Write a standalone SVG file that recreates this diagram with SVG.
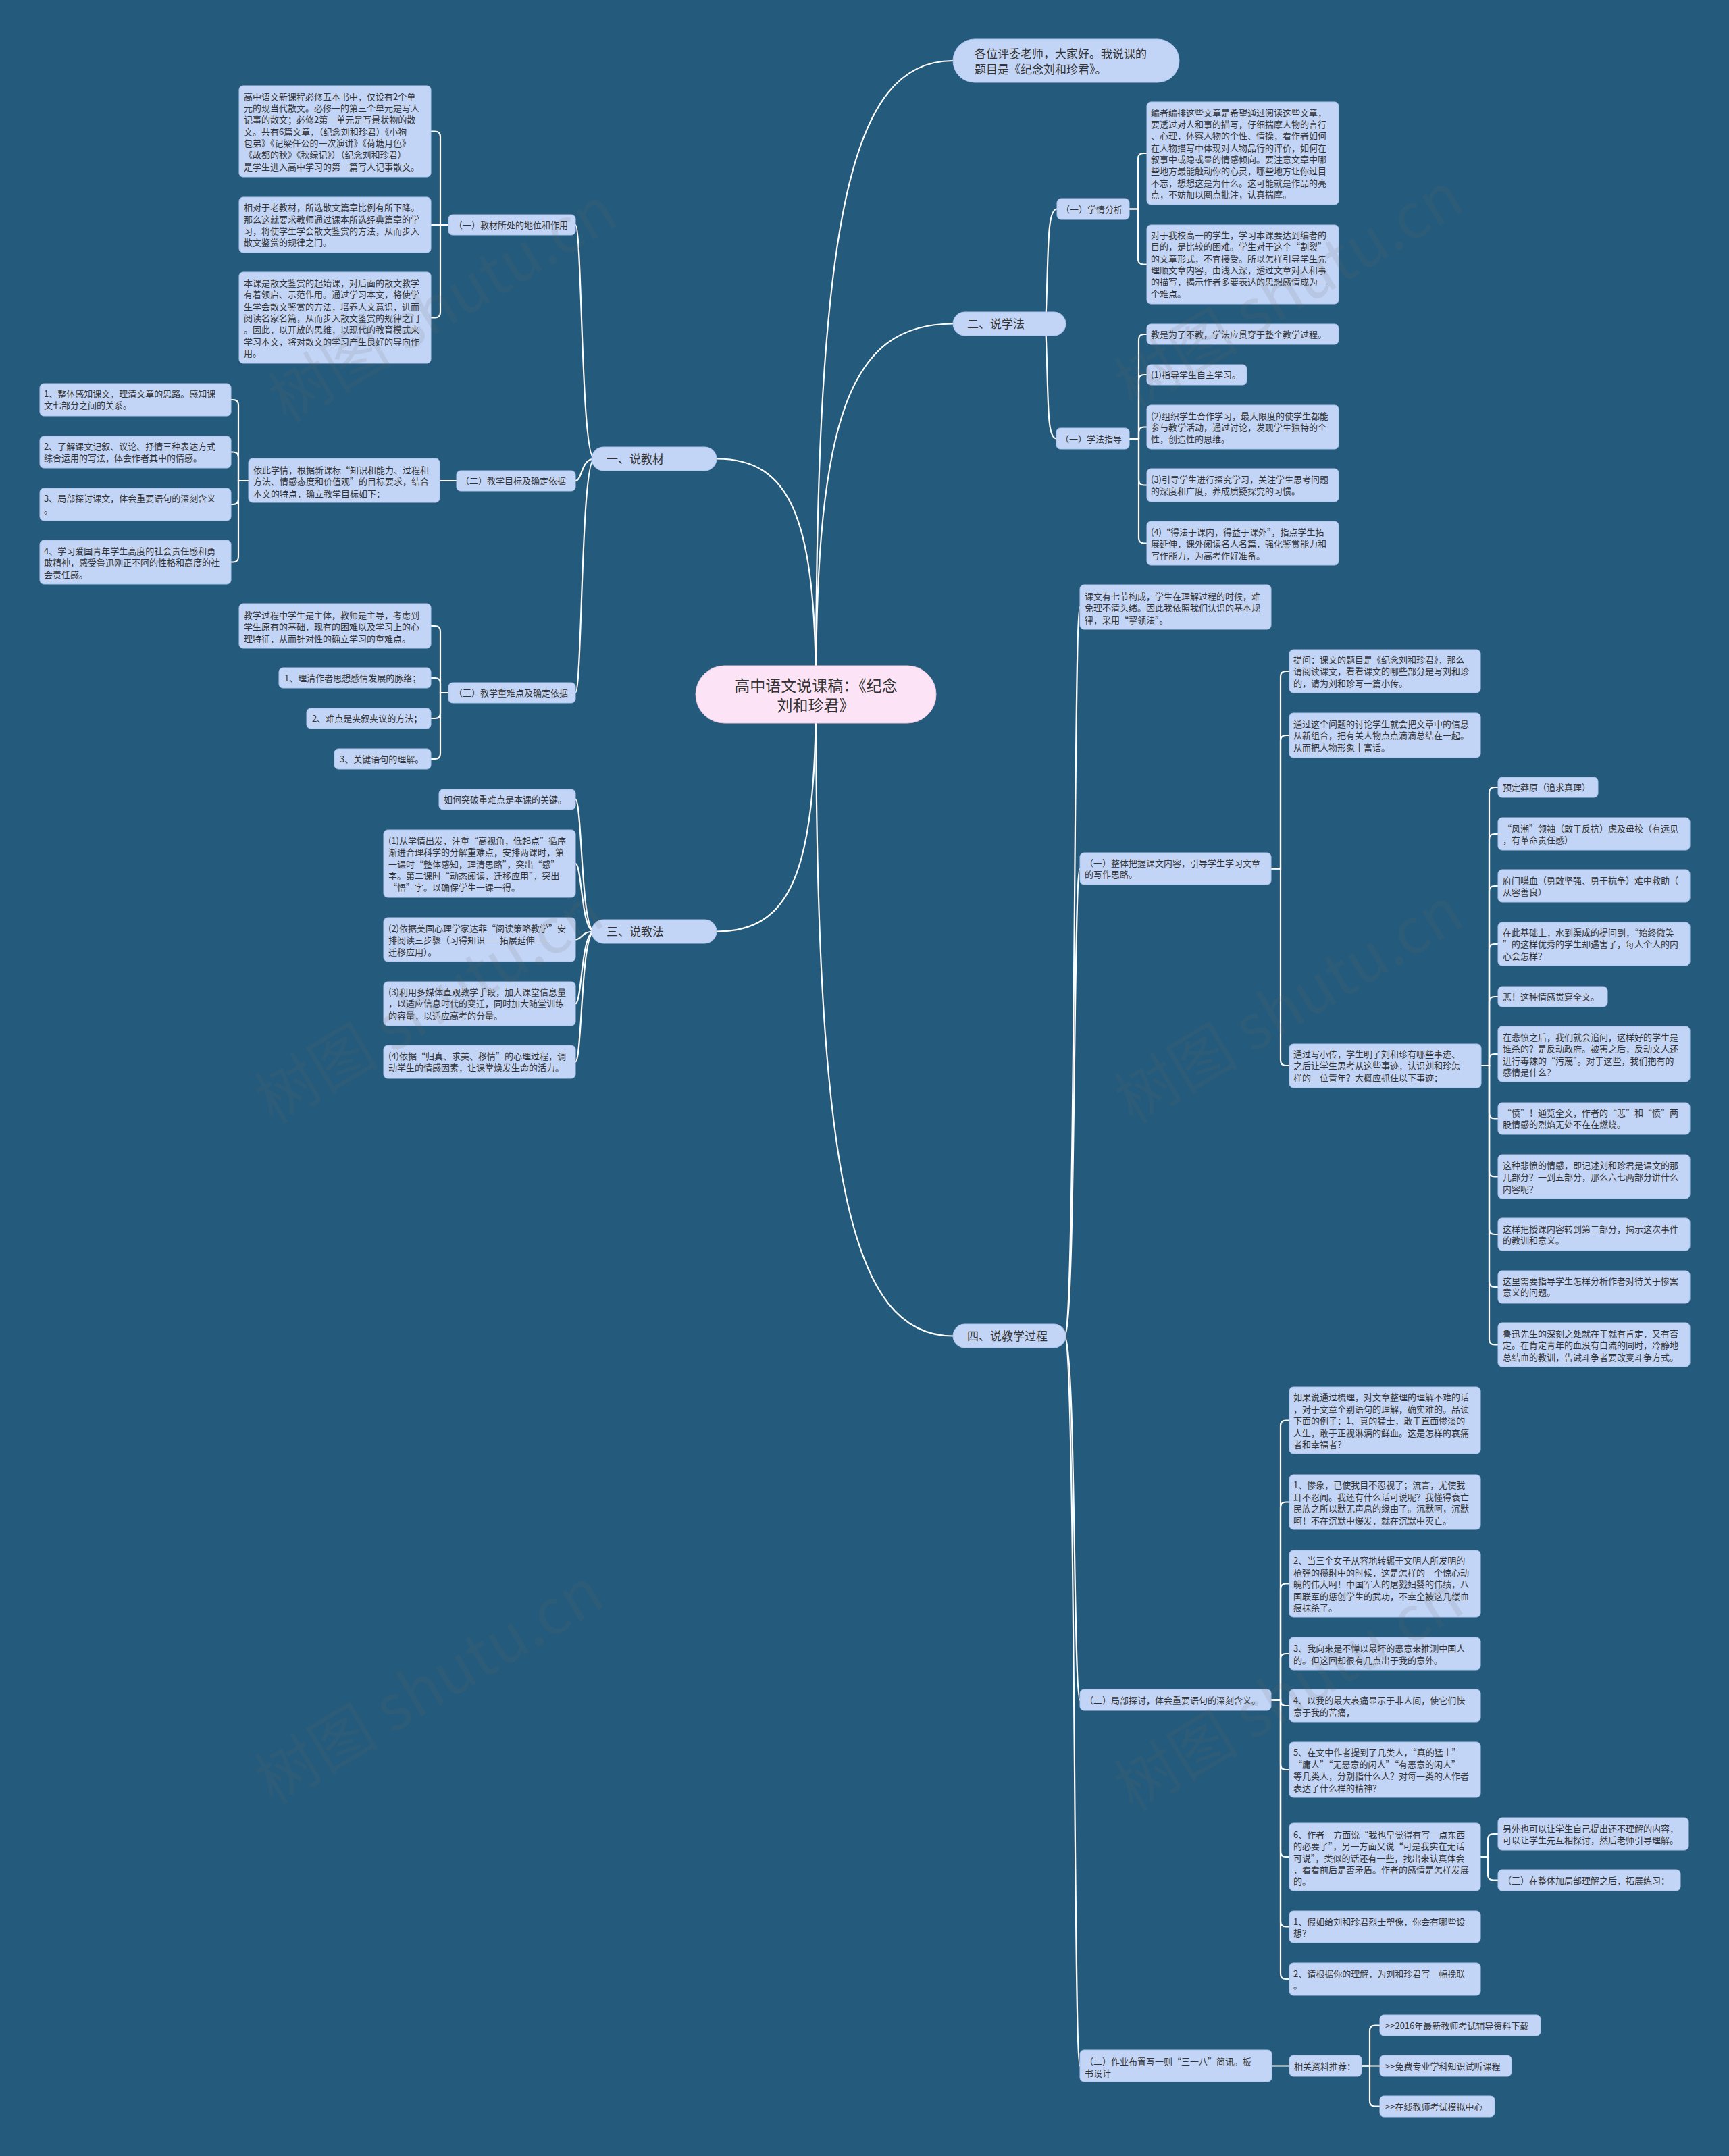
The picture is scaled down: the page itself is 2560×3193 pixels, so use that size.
<svg xmlns="http://www.w3.org/2000/svg" width="2560" height="3193" viewBox="0 0 2560 3193">
<style>
.bg{fill:#245a7b}
.nd{fill:#c3d5f6;stroke:#aec4ec;stroke-width:1}
.mn{fill:#c3d5f6;stroke:#aec4ec;stroke-width:1}
.ct{fill:#fce4f6;stroke:#e9c9e0;stroke-width:1}
text{font-family:"Noto Sans CJK SC","Noto Sans",sans-serif;fill:#333}
.t13{font-size:13px}
.t17{font-size:17px}
.t23{font-size:23px}
.lk{fill:none;stroke:#ffffff;stroke-width:2.2;stroke-linecap:round}
.wm{font-family:"Noto Sans CJK SC","Liberation Serif",serif;font-size:92px;fill:#6b6b6b;opacity:0.13}
</style>
<rect class="bg" x="0" y="0" width="2560" height="3193"/>

<g id="connectors">
<!-- center to main -->
<path class="lk" d="M1208 1028 C1208 320 1259 90 1411 90"/>
<path class="lk" d="M1208 1028 C1208 615 1259 479.5 1411 479.5"/>
<path class="lk" d="M1208 1028 C1208 1741 1259 1978.5 1411 1978.5"/>
<path class="lk" d="M1208 1028 C1208 767 1171 679.5 1061 679.5"/>
<path class="lk" d="M1208 1028 C1208 1292 1171 1379.5 1061 1379.5"/>
<!-- 说教材 to subs -->
<path class="lk" d="M880 679.5 C860 679.5 862 333 852 333"/>
<path class="lk" d="M880 679.5 C860 679.5 862 712 852 712"/>
<path class="lk" d="M880 679.5 C860 679.5 862 1026 852 1026"/>
<!-- A bracket -->
<path class="lk" d="M664 333 H652 V202.5 Q652 194.5 644 194.5 H638"/>
<path class="lk" d="M664 333 H638"/>
<path class="lk" d="M664 333 H652 V462.5 Q652 470.5 644 470.5 H638"/>
<!-- B -->
<path class="lk" d="M676 712 H651"/>
<path class="lk" d="M368 712 H353 V600 Q353 592 345 592 H342"/>
<path class="lk" d="M368 712 H353 V677.5 Q353 669.5 345 669.5 H342"/>
<path class="lk" d="M368 712 H353 V739 Q353 747 345 747 H342"/>
<path class="lk" d="M368 712 H353 V824.5 Q353 832.5 345 832.5 H342"/>
<!-- C -->
<path class="lk" d="M664 1026 H652 V935 Q652 927 644 927 H638"/>
<path class="lk" d="M664 1026 H652 V1012 Q652 1004 644 1004 H638"/>
<path class="lk" d="M664 1026 H652 V1056 Q652 1064 644 1064 H638"/>
<path class="lk" d="M664 1026 H652 V1116 Q652 1124 644 1124 H638"/>
<!-- 说教法 to D -->
<path class="lk" d="M880 1379.5 C860 1379.5 862 1184 852 1184"/>
<path class="lk" d="M880 1379.5 C860 1379.5 862 1279 852 1279"/>
<path class="lk" d="M880 1379.5 C860 1379.5 862 1391.5 852 1391.5"/>
<path class="lk" d="M880 1379.5 C860 1379.5 862 1486.5 852 1486.5"/>
<path class="lk" d="M880 1379.5 C860 1379.5 862 1572.5 852 1572.5"/>
<!-- 说学法 to subs -->
<path class="lk" d="M1548 480 C1553 380 1549 309.5 1565 309.5"/>
<path class="lk" d="M1548 480 C1553 590 1549 649.5 1564 649.5"/>
<!-- E -->
<path class="lk" d="M1672 309.5 H1685 V235 Q1685 227 1693 227 H1698"/>
<path class="lk" d="M1672 309.5 H1685 V383.5 Q1685 391.5 1693 391.5 H1698"/>
<!-- F -->
<path class="lk" d="M1672 649.5 H1686 V503 Q1686 495 1694 495 H1698"/>
<path class="lk" d="M1672 649.5 H1686 V563 Q1686 555 1694 555 H1698"/>
<path class="lk" d="M1672 649.5 H1686 V640.5 Q1686 632.5 1694 632.5 H1698"/>
<path class="lk" d="M1672 649.5 H1686 V710.5 Q1686 718.5 1694 718.5 H1698"/>
<path class="lk" d="M1672 649.5 H1686 V796.5 Q1686 804.5 1694 804.5 H1698"/>
<!-- 说教学过程 to subs -->
<path class="lk" d="M1576 1978.5 C1593 1978.5 1589 899 1599 899"/>
<path class="lk" d="M1576 1978.5 C1593 1978.5 1589 1286.5 1599 1286.5"/>
<path class="lk" d="M1576 1978.5 C1593 1978.5 1589 2517.5 1599 2517.5"/>
<path class="lk" d="M1576 1978.5 C1593 1978.5 1589 3059.5 1599 3059.5"/>
<!-- G2 bracket -->
<path class="lk" d="M1882 1286.5 H1896 V1002 Q1896 994 1904 994 H1909"/>
<path class="lk" d="M1882 1286.5 H1896 V1097 Q1896 1089 1904 1089 H1909"/>
<path class="lk" d="M1882 1286.5 H1896 V1570 Q1896 1578 1904 1578 H1909"/>
<!-- H bracket -->
<path class="lk" d="M2193 1578 H2205 V1174 Q2205 1166 2213 1166 H2218"/>
<path class="lk" d="M2193 1578 H2205 V1243 Q2205 1235 2213 1235 H2218"/>
<path class="lk" d="M2193 1578 H2205 V1320 Q2205 1312 2213 1312 H2218"/>
<path class="lk" d="M2193 1578 H2205 V1406 Q2205 1398 2213 1398 H2218"/>
<path class="lk" d="M2193 1578 H2205 V1484 Q2205 1476 2213 1476 H2218"/>
<path class="lk" d="M2193 1578 H2205 V1569 Q2205 1561 2213 1561 H2218"/>
<path class="lk" d="M2193 1578 H2205 V1648.5 Q2205 1656.5 2213 1656.5 H2218"/>
<path class="lk" d="M2193 1578 H2205 V1734.5 Q2205 1742.5 2213 1742.5 H2218"/>
<path class="lk" d="M2193 1578 H2205 V1820 Q2205 1828 2213 1828 H2218"/>
<path class="lk" d="M2193 1578 H2205 V1898 Q2205 1906 2213 1906 H2218"/>
<path class="lk" d="M2193 1578 H2205 V1983.5 Q2205 1991.5 2213 1991.5 H2218"/>
<!-- I bracket -->
<path class="lk" d="M1882 2517.5 H1896 V2111.5 Q1896 2103.5 1904 2103.5 H1909"/>
<path class="lk" d="M1882 2517.5 H1896 V2232.5 Q1896 2224.5 1904 2224.5 H1909"/>
<path class="lk" d="M1882 2517.5 H1896 V2353.5 Q1896 2345.5 1904 2345.5 H1909"/>
<path class="lk" d="M1882 2517.5 H1896 V2457 Q1896 2449 1904 2449 H1909"/>
<path class="lk" d="M1882 2517.5 H1896 V2518 Q1896 2526 1904 2526 H1909"/>
<path class="lk" d="M1882 2517.5 H1896 V2613 Q1896 2621 1904 2621 H1909"/>
<path class="lk" d="M1882 2517.5 H1896 V2742 Q1896 2750 1904 2750 H1909"/>
<path class="lk" d="M1882 2517.5 H1896 V2845.5 Q1896 2853.5 1904 2853.5 H1909"/>
<path class="lk" d="M1882 2517.5 H1896 V2923 Q1896 2931 1904 2931 H1909"/>
<!-- J bracket -->
<path class="lk" d="M2192 2750 H2203 V2724 Q2203 2716 2211 2716 H2218"/>
<path class="lk" d="M2192 2750 H2203 V2776.5 Q2203 2784.5 2211 2784.5 H2218"/>
<!-- K -->
<path class="lk" d="M1883 3059.5 H1909"/>
<path class="lk" d="M2016 3059.5 H2028 V3007.5 Q2028 2999.5 2036 2999.5 H2043"/>
<path class="lk" d="M2016 3059.5 H2043"/>
<path class="lk" d="M2016 3059.5 H2028 V3111.5 Q2028 3119.5 2036 3119.5 H2043"/>
</g>

<g id="center">
<rect class="ct" x="1030" y="986" width="356" height="85" rx="42.5"/>
<text class="t23" text-anchor="middle"><tspan x="1208" y="1024">高中语文说课稿：《纪念</tspan><tspan x="1208" y="1053">刘和珍君》</tspan></text>
</g>

<g id="intro">
<rect class="mn" x="1411" y="58" width="335" height="64" rx="32"/>
<text class="t17"><tspan x="1443" y="85.5">各位评委老师，大家好。我说课的</tspan><tspan x="1443" y="108.5">题目是《纪念刘和珍君》。</tspan></text>
</g>

<g id="b1-jiaocai">
<rect class="mn" x="876" y="662" width="185" height="35" rx="17.5"/>
<text class="t17" x="898" y="686">一、说教材</text>
</g>
<g id="b2-xuefa">
<rect class="mn" x="1411" y="462" width="167" height="35" rx="17.5"/>
<text class="t17" x="1432" y="486">二、说学法</text>
</g>
<g id="b3-jiaofa">
<rect class="mn" x="876" y="1362" width="185" height="35" rx="17.5"/>
<text class="t17" x="898" y="1386">三、说教法</text>
</g>
<g id="b4-guocheng">
<rect class="mn" x="1411" y="1961" width="167" height="35" rx="17.5"/>
<text class="t17" x="1432" y="1985">四、说教学过程</text>
</g>

<!-- 说教材 -->
<g id="a">
<rect class="nd" x="664" y="318" width="188" height="30" rx="6"/>
<text class="t13" x="672" y="338">（一）教材所处的地位和作用</text>
</g>
<g id="a1">
<rect class="nd" x="354" y="127" width="284" height="135" rx="6"/>
<text class="t13"><tspan x="361" y="147.7">高中语文新课程必修五本书中，仅设有2个单</tspan><tspan x="361" dy="17.3">元的现当代散文。必修一的第三个单元是写人</tspan><tspan x="361" dy="17.3">记事的散文；必修2第一单元是写景状物的散</tspan><tspan x="361" dy="17.3">文。共有6篇文章，（纪念刘和珍君）《小狗</tspan><tspan x="361" dy="17.3">包弟》《记梁任公的一次演讲》《荷塘月色》</tspan><tspan x="361" dy="17.3">《故都的秋》《秋绿记》）（纪念刘和珍君）</tspan><tspan x="361" dy="17.3">是学生进入高中学习的第一篇写人记事散文。</tspan></text>
</g>
<g id="a2">
<rect class="nd" x="354" y="292" width="284" height="82" rx="6"/>
<text class="t13"><tspan x="361" y="312.3">相对于老教材，所选散文篇章比例有所下降。</tspan><tspan x="361" dy="17.3">那么这就要求教师通过课本所选经典篇章的学</tspan><tspan x="361" dy="17.3">习，将使学生学会散文鉴赏的方法，从而步入</tspan><tspan x="361" dy="17.3">散文鉴赏的规律之门。</tspan></text>
</g>
<g id="a3">
<rect class="nd" x="354" y="403" width="284" height="135" rx="6"/>
<text class="t13"><tspan x="361" y="424">本课是散文鉴赏的起始课，对后面的散文教学</tspan><tspan x="361" dy="17.3">有着领启、示范作用。通过学习本文，将使学</tspan><tspan x="361" dy="17.3">生学会散文鉴赏的方法，培养人文意识，进而</tspan><tspan x="361" dy="17.3">阅读名家名篇，从而步入散文鉴赏的规律之门</tspan><tspan x="361" dy="17.3">。因此，以开放的思维，以现代的教育模式来</tspan><tspan x="361" dy="17.3">学习本文，将对散文的学习产生良好的导向作</tspan><tspan x="361" dy="17.3">用。</tspan></text>
</g>

<g id="b">
<rect class="nd" x="676" y="697" width="176" height="30" rx="6"/>
<text class="t13" x="682" y="717">（二）教学目标及确定依据</text>
</g>
<g id="b1">
<rect class="nd" x="368" y="679" width="283" height="65" rx="6"/>
<text class="t13"><tspan x="375" y="701">依此学情，根据新课标“知识和能力、过程和</tspan><tspan x="375" dy="17.3">方法、情感态度和价值观”的目标要求，结合</tspan><tspan x="375" dy="17.3">本文的特点，确立教学目标如下：</tspan></text>
</g>
<g id="l1">
<rect class="nd" x="59" y="568" width="283" height="48" rx="6"/>
<text class="t13"><tspan x="65" y="588">1、整体感知课文，理清文章的思路。感知课</tspan><tspan x="65" dy="17.3">文七部分之间的关系。</tspan></text>
</g>
<g id="l2">
<rect class="nd" x="59" y="646" width="283" height="47" rx="6"/>
<text class="t13"><tspan x="65" y="666">2、了解课文记叙、议论、抒情三种表达方式</tspan><tspan x="65" dy="17.3">综合运用的写法，体会作者其中的情感。</tspan></text>
</g>
<g id="l3">
<rect class="nd" x="59" y="723" width="283" height="48" rx="6"/>
<text class="t13"><tspan x="65" y="743">3、局部探讨课文，体会重要语句的深刻含义</tspan><tspan x="65" dy="17.3">。</tspan></text>
</g>
<g id="l4">
<rect class="nd" x="59" y="800" width="283" height="65" rx="6"/>
<text class="t13"><tspan x="65" y="821">4、学习爱国青年学生高度的社会责任感和勇</tspan><tspan x="65" dy="17.3">敢精神，感受鲁迅刚正不阿的性格和高度的社</tspan><tspan x="65" dy="17.3">会责任感。</tspan></text>
</g>

<g id="c">
<rect class="nd" x="664" y="1011" width="188" height="30" rx="6"/>
<text class="t13" x="672" y="1031">（三）教学重难点及确定依据</text>
</g>
<g id="c1">
<rect class="nd" x="354" y="894" width="284" height="66" rx="6"/>
<text class="t13"><tspan x="361" y="916">教学过程中学生是主体，教师是主导，考虑到</tspan><tspan x="361" dy="17.3">学生原有的基础，现有的困难以及学习上的心</tspan><tspan x="361" dy="17.3">理特征，从而针对性的确立学习的重难点。</tspan></text>
</g>
<g id="c2">
<rect class="nd" x="413" y="989" width="225" height="30" rx="6"/>
<text class="t13" x="421" y="1009">1、理清作者思想感情发展的脉络；</text>
</g>
<g id="c3">
<rect class="nd" x="454" y="1049" width="184" height="30" rx="6"/>
<text class="t13" x="462" y="1069">2、难点是夹叙夹议的方法；</text>
</g>
<g id="c4">
<rect class="nd" x="495" y="1109" width="143" height="30" rx="6"/>
<text class="t13" x="503" y="1129">3、关键语句的理解。</text>
</g>

<!-- 说教法 -->
<g id="d1">
<rect class="nd" x="650" y="1169" width="202" height="30" rx="6"/>
<text class="t13" x="657" y="1189">如何突破重难点是本课的关键。</text>
</g>
<g id="d2">
<rect class="nd" x="568" y="1229" width="284" height="100" rx="6"/>
<text class="t13"><tspan x="575" y="1250">(1)从学情出发，注重“高视角，低起点”循序</tspan><tspan x="575" dy="17.3">渐进合理科学的分解重难点，安排两课时，第</tspan><tspan x="575" dy="17.3">一课时“整体感知，理清思路”，突出“感”</tspan><tspan x="575" dy="17.3">字。第二课时“动态阅读，迁移应用”，突出</tspan><tspan x="575" dy="17.3">“悟”字。以确保学生一课一得。</tspan></text>
</g>
<g id="d3">
<rect class="nd" x="568" y="1359" width="284" height="65" rx="6"/>
<text class="t13"><tspan x="575" y="1380">(2)依据美国心理学家达菲“阅读策略教学”安</tspan><tspan x="575" dy="17.3">排阅读三步骤（习得知识——拓展延伸——</tspan><tspan x="575" dy="17.3">迁移应用）。</tspan></text>
</g>
<g id="d4">
<rect class="nd" x="568" y="1454" width="284" height="65" rx="6"/>
<text class="t13"><tspan x="575" y="1474">(3)利用多媒体直观教学手段，加大课堂信息量</tspan><tspan x="575" dy="17.3">，以适应信息时代的变迁，同时加大随堂训练</tspan><tspan x="575" dy="17.3">的容量，以适应高考的分量。</tspan></text>
</g>
<g id="d5">
<rect class="nd" x="568" y="1548" width="284" height="49" rx="6"/>
<text class="t13"><tspan x="575" y="1569">(4)依据“归真、求美、移情”的心理过程，调</tspan><tspan x="575" dy="17.3">动学生的情感因素，让课堂焕发生命的活力。</tspan></text>
</g>

<!-- 说学法 -->
<g id="e">
<rect class="nd" x="1565" y="294" width="107" height="31" rx="6"/>
<text class="t13" x="1571" y="315">（一）学情分析</text>
</g>
<g id="e1">
<rect class="nd" x="1698" y="151" width="284" height="152" rx="6"/>
<text class="t13"><tspan x="1704" y="171.7">编者编排这些文章是希望通过阅读这些文章，</tspan><tspan x="1704" dy="17.3">要透过对人和事的描写，仔细揣摩人物的言行</tspan><tspan x="1704" dy="17.3">、心理，体察人物的个性、情操，看作者如何</tspan><tspan x="1704" dy="17.3">在人物描写中体现对人物品行的评价，如何在</tspan><tspan x="1704" dy="17.3">叙事中或隐或显的情感倾向。要注意文章中哪</tspan><tspan x="1704" dy="17.3">些地方最能触动你的心灵，哪些地方让你过目</tspan><tspan x="1704" dy="17.3">不忘，想想这是为什么。这可能就是作品的亮</tspan><tspan x="1704" dy="17.3">点，不妨加以圈点批注，认真揣摩。</tspan></text>
</g>
<g id="e2">
<rect class="nd" x="1698" y="333" width="284" height="117" rx="6"/>
<text class="t13"><tspan x="1704" y="353">对于我校高一的学生，学习本课要达到编者的</tspan><tspan x="1704" dy="17.3">目的，是比较的困难。学生对于这个“割裂”</tspan><tspan x="1704" dy="17.3">的文章形式，不宜接受。所以怎样引导学生先</tspan><tspan x="1704" dy="17.3">理顺文章内容，由浅入深，透过文章对人和事</tspan><tspan x="1704" dy="17.3">的描写，揭示作者多要表达的思想感情成为一</tspan><tspan x="1704" dy="17.3">个难点。</tspan></text>
</g>
<g id="f">
<rect class="nd" x="1564" y="634" width="108" height="31" rx="6"/>
<text class="t13" x="1570" y="655">（一）学法指导</text>
</g>
<g id="f1">
<rect class="nd" x="1698" y="480" width="284" height="30" rx="6"/>
<text class="t13" x="1704" y="500">教是为了不教，学法应贯穿于整个教学过程。</text>
</g>
<g id="f2">
<rect class="nd" x="1698" y="540" width="148" height="30" rx="6"/>
<text class="t13" x="1704" y="560">(1)指导学生自主学习。</text>
</g>
<g id="f3">
<rect class="nd" x="1698" y="600" width="284" height="65" rx="6"/>
<text class="t13"><tspan x="1704" y="620.7">(2)组织学生合作学习，最大限度的使学生都能</tspan><tspan x="1704" dy="17.3">参与教学活动，通过讨论，发现学生独特的个</tspan><tspan x="1704" dy="17.3">性，创造性的思维。</tspan></text>
</g>
<g id="f4">
<rect class="nd" x="1698" y="694" width="284" height="49" rx="6"/>
<text class="t13"><tspan x="1704" y="715">(3)引导学生进行探究学习，关注学生思考问题</tspan><tspan x="1704" dy="17.3">的深度和广度，养成质疑探究的习惯。</tspan></text>
</g>
<g id="f5">
<rect class="nd" x="1698" y="772" width="284" height="65" rx="6"/>
<text class="t13"><tspan x="1704" y="793">(4)“得法于课内，得益于课外”，指点学生拓</tspan><tspan x="1704" dy="17.3">展延伸，课外阅读名人名篇，强化鉴赏能力和</tspan><tspan x="1704" dy="17.3">写作能力，为高考作好准备。</tspan></text>
</g>

<!-- 说教学过程 -->
<g id="g1">
<rect class="nd" x="1599" y="866" width="283" height="66" rx="6"/>
<text class="t13"><tspan x="1606" y="888">课文有七节构成，学生在理解过程的时候，难</tspan><tspan x="1606" dy="17.3">免理不清头绪。因此我依照我们认识的基本规</tspan><tspan x="1606" dy="17.3">律，采用“挈领法”。</tspan></text>
</g>
<g id="g2">
<rect class="nd" x="1599" y="1263" width="283" height="47" rx="6"/>
<text class="t13"><tspan x="1606" y="1283">（一）整体把握课文内容，引导学生学习文章</tspan><tspan x="1606" dy="17.3">的写作思路。</tspan></text>
</g>
<g id="g2a">
<rect class="nd" x="1909" y="962" width="283" height="64" rx="6"/>
<text class="t13"><tspan x="1915" y="982">提问：课文的题目是《纪念刘和珍君》，那么</tspan><tspan x="1915" dy="17.3">请阅读课文，看看课文的哪些部分是写刘和珍</tspan><tspan x="1915" dy="17.3">的，请为刘和珍写一篇小传。</tspan></text>
</g>
<g id="g2b">
<rect class="nd" x="1909" y="1056" width="283" height="66" rx="6"/>
<text class="t13"><tspan x="1915" y="1077">通过这个问题的讨论学生就会把文章中的信息</tspan><tspan x="1915" dy="17.3">从新组合，把有关人物点点滴滴总结在一起。</tspan><tspan x="1915" dy="17.3">从而把人物形象丰富话。</tspan></text>
</g>
<g id="g2c">
<rect class="nd" x="1909" y="1546" width="284" height="65" rx="6"/>
<text class="t13"><tspan x="1915" y="1566">通过写小传，学生明了刘和珍有哪些事迹、</tspan><tspan x="1915" dy="17.3">之后让学生思考从这些事迹，认识刘和珍怎</tspan><tspan x="1915" dy="17.3">样的一位青年？大概应抓住以下事迹：</tspan></text>
</g>
<g id="h1">
<rect class="nd" x="2218" y="1151" width="148" height="30" rx="6"/>
<text class="t13" x="2225" y="1171">预定莽原（追求真理）</text>
</g>
<g id="h2">
<rect class="nd" x="2218" y="1211" width="284" height="48" rx="6"/>
<text class="t13"><tspan x="2225" y="1232">“风潮”领袖（敢于反抗）虑及母校（有远见</tspan><tspan x="2225" dy="17.3">，有革命责任感）</tspan></text>
</g>
<g id="h3">
<rect class="nd" x="2218" y="1288" width="284" height="48" rx="6"/>
<text class="t13"><tspan x="2225" y="1309">府门喋血（勇敢坚强、勇于抗争）难中救助（</tspan><tspan x="2225" dy="17.3">从容善良）</tspan></text>
</g>
<g id="h4">
<rect class="nd" x="2218" y="1366" width="284" height="64" rx="6"/>
<text class="t13"><tspan x="2225" y="1386">在此基础上，水到渠成的提问到，“始终微笑</tspan><tspan x="2225" dy="17.3">”的这样优秀的学生却遇害了，每人个人的内</tspan><tspan x="2225" dy="17.3">心会怎样？</tspan></text>
</g>
<g id="h5">
<rect class="nd" x="2218" y="1461" width="162" height="30" rx="6"/>
<text class="t13" x="2225" y="1481">悲！这种情感贯穿全文。</text>
</g>
<g id="h6">
<rect class="nd" x="2218" y="1520" width="284" height="82" rx="6"/>
<text class="t13"><tspan x="2225" y="1541">在悲愤之后，我们就会追问，这样好的学生是</tspan><tspan x="2225" dy="17.3">谁杀的？是反动政府。被害之后，反动文人还</tspan><tspan x="2225" dy="17.3">进行毒辣的“污蔑”。对于这些，我们抱有的</tspan><tspan x="2225" dy="17.3">感情是什么？</tspan></text>
</g>
<g id="h7">
<rect class="nd" x="2218" y="1633" width="284" height="47" rx="6"/>
<text class="t13"><tspan x="2225" y="1653">“愤”！通览全文，作者的“悲”和“愤”两</tspan><tspan x="2225" dy="17.3">股情感的烈焰无处不在在燃烧。</tspan></text>
</g>
<g id="h8">
<rect class="nd" x="2218" y="1710" width="284" height="65" rx="6"/>
<text class="t13"><tspan x="2225" y="1731">这种悲愤的情感，即记述刘和珍君是课文的那</tspan><tspan x="2225" dy="17.3">几部分？一到五部分，那么六七两部分讲什么</tspan><tspan x="2225" dy="17.3">内容呢？</tspan></text>
</g>
<g id="h9">
<rect class="nd" x="2218" y="1804" width="284" height="48" rx="6"/>
<text class="t13"><tspan x="2225" y="1825">这样把授课内容转到第二部分，揭示这次事件</tspan><tspan x="2225" dy="17.3">的教训和意义。</tspan></text>
</g>
<g id="h10">
<rect class="nd" x="2218" y="1882" width="284" height="48" rx="6"/>
<text class="t13"><tspan x="2225" y="1902">这里需要指导学生怎样分析作者对待关于惨案</tspan><tspan x="2225" dy="17.3">意义的问题。</tspan></text>
</g>
<g id="h11">
<rect class="nd" x="2218" y="1959" width="284" height="65" rx="6"/>
<text class="t13"><tspan x="2225" y="1980">鲁迅先生的深刻之处就在于就有肯定，又有否</tspan><tspan x="2225" dy="17.3">定。在肯定青年的血没有白流的同时，冷静地</tspan><tspan x="2225" dy="17.3">总结血的教训，告诫斗争者要改变斗争方式。</tspan></text>
</g>

<g id="i">
<rect class="nd" x="1599" y="2502" width="283" height="31" rx="6"/>
<text class="t13" x="1606" y="2522.5">（二）局部探讨，体会重要语句的深刻含义。</text>
</g>
<g id="i1">
<rect class="nd" x="1909" y="2054" width="283" height="99" rx="6"/>
<text class="t13"><tspan x="1915" y="2074">如果说通过梳理，对文章整理的理解不难的话</tspan><tspan x="1915" dy="17.5">，对于文章个别语句的理解，确实难的。品读</tspan><tspan x="1915" dy="17.5">下面的例子：1、真的猛士，敢于直面惨淡的</tspan><tspan x="1915" dy="17.5">人生，敢于正视淋漓的鲜血。这是怎样的哀痛</tspan><tspan x="1915" dy="17.5">者和幸福者？</tspan></text>
</g>
<g id="i2">
<rect class="nd" x="1909" y="2184" width="283" height="81" rx="6"/>
<text class="t13"><tspan x="1915" y="2204">1、惨象，已使我目不忍视了；流言，尤使我</tspan><tspan x="1915" dy="17.5">耳不忍闻。我还有什么话可说呢？我懂得衰亡</tspan><tspan x="1915" dy="17.5">民族之所以默无声息的缘由了。沉默呵，沉默</tspan><tspan x="1915" dy="17.5">呵！不在沉默中爆发，就在沉默中灭亡。</tspan></text>
</g>
<g id="i3">
<rect class="nd" x="1909" y="2296" width="283" height="99" rx="6"/>
<text class="t13"><tspan x="1915" y="2316">2、当三个女子从容地转辗于文明人所发明的</tspan><tspan x="1915" dy="17.5">枪弹的攒射中的时候，这是怎样的一个惊心动</tspan><tspan x="1915" dy="17.5">魄的伟大呵！中国军人的屠戮妇婴的伟绩，八</tspan><tspan x="1915" dy="17.5">国联军的惩创学生的武功，不幸全被这几缕血</tspan><tspan x="1915" dy="17.5">痕抹杀了。</tspan></text>
</g>
<g id="i4">
<rect class="nd" x="1909" y="2425" width="283" height="48" rx="6"/>
<text class="t13"><tspan x="1915" y="2446">3、我向来是不惮以最坏的恶意来推测中国人</tspan><tspan x="1915" dy="17.5">的。但这回却很有几点出于我的意外。</tspan></text>
</g>
<g id="i5">
<rect class="nd" x="1909" y="2502" width="283" height="48" rx="6"/>
<text class="t13"><tspan x="1915" y="2523">4、以我的最大哀痛显示于非人间，使它们快</tspan><tspan x="1915" dy="17.5">意于我的苦痛，</tspan></text>
</g>
<g id="i6">
<rect class="nd" x="1909" y="2580" width="283" height="82" rx="6"/>
<text class="t13"><tspan x="1915" y="2600">5、在文中作者提到了几类人，“真的猛士”</tspan><tspan x="1915" dy="17.5">“庸人”“无恶意的闲人”“有恶意的闲人”</tspan><tspan x="1915" dy="17.5">等几类人，分别指什么人？对每一类的人作者</tspan><tspan x="1915" dy="17.5">表达了什么样的精神？</tspan></text>
</g>
<g id="i7">
<rect class="nd" x="1909" y="2700" width="283" height="100" rx="6"/>
<text class="t13"><tspan x="1915" y="2722">6、作者一方面说“我也早觉得有写一点东西</tspan><tspan x="1915" dy="17.3">的必要了”，另一方面又说“可是我实在无话</tspan><tspan x="1915" dy="17.3">可说”，类似的话还有一些，找出来认真体会</tspan><tspan x="1915" dy="17.3">，看看前后是否矛盾。作者的感情是怎样发展</tspan><tspan x="1915" dy="17.3">的。</tspan></text>
</g>
<g id="j1">
<rect class="nd" x="2218" y="2692" width="282" height="48" rx="6"/>
<text class="t13"><tspan x="2225" y="2713">另外也可以让学生自己提出还不理解的内容，</tspan><tspan x="2225" dy="17.3">可以让学生先互相探讨，然后老师引导理解。</tspan></text>
</g>
<g id="j2">
<rect class="nd" x="2218" y="2769" width="270" height="31" rx="6"/>
<text class="t13" x="2225" y="2789.5">（三）在整体加局部理解之后，拓展练习：</text>
</g>
<g id="i8">
<rect class="nd" x="1909" y="2830" width="283" height="47" rx="6"/>
<text class="t13"><tspan x="1915" y="2851">1、假如给刘和珍君烈士塑像，你会有哪些设</tspan><tspan x="1915" dy="17.3">想？</tspan></text>
</g>
<g id="i9">
<rect class="nd" x="1909" y="2907" width="283" height="48" rx="6"/>
<text class="t13"><tspan x="1915" y="2928">2、请根据你的理解，为刘和珍君写一幅挽联</tspan><tspan x="1915" dy="17.3">。</tspan></text>
</g>

<g id="k">
<rect class="nd" x="1599" y="3036" width="284" height="47" rx="6"/>
<text class="t13"><tspan x="1606" y="3058">（二）作业布置写一则“三一八”简讯。板</tspan><tspan x="1606" dy="17.3">书设计</tspan></text>
</g>
<g id="k1">
<rect class="nd" x="1909" y="3044" width="107" height="31" rx="6"/>
<text class="t13" x="1916" y="3064.5">相关资料推荐：</text>
</g>
<g id="k1a">
<rect class="nd" x="2043" y="2984" width="238" height="31" rx="6"/>
<text class="t13" x="2051" y="3004.5">&gt;&gt;2016年最新教师考试辅导资料下载</text>
</g>
<g id="k1b">
<rect class="nd" x="2043" y="3044" width="195" height="31" rx="6"/>
<text class="t13" x="2051" y="3064.5">&gt;&gt;免费专业学科知识试听课程</text>
</g>
<g id="k1c">
<rect class="nd" x="2043" y="3104" width="170" height="31" rx="6"/>
<text class="t13" x="2051" y="3124.5">&gt;&gt;在线教师考试模拟中心</text>
</g>

<g id="watermark">
<text class="wm" transform="translate(672 479) rotate(-31)" text-anchor="middle">树图 shutu.cn</text>
<text class="wm" transform="translate(1925 458) rotate(-31)" text-anchor="middle">树图 shutu.cn</text>
<text class="wm" transform="translate(652 1517) rotate(-31)" text-anchor="middle">树图 shutu.cn</text>
<text class="wm" transform="translate(1925 1517) rotate(-31)" text-anchor="middle">树图 shutu.cn</text>
<text class="wm" transform="translate(652 2525) rotate(-31)" text-anchor="middle">树图 shutu.cn</text>
<text class="wm" transform="translate(1925 2535) rotate(-31)" text-anchor="middle">树图 shutu.cn</text>
</g>
</svg>
